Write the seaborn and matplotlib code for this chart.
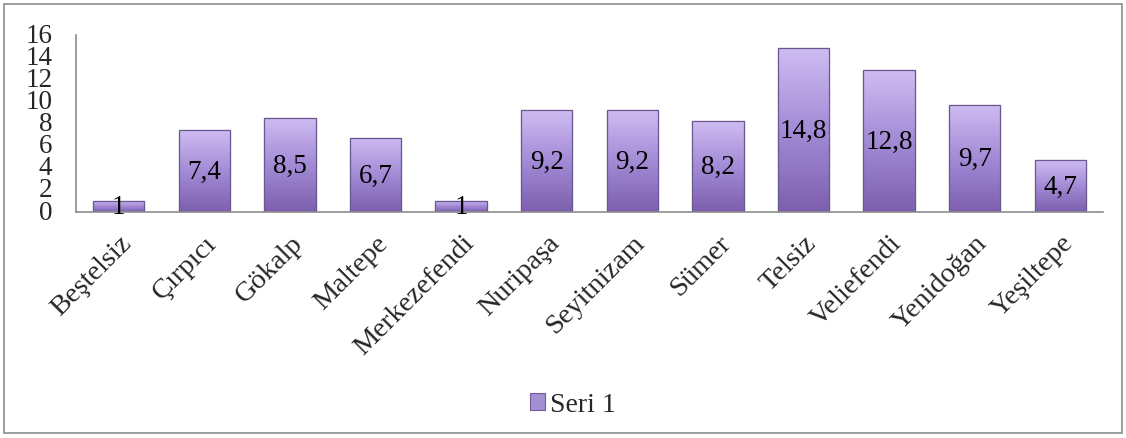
import numpy as np
import pandas as pd
import matplotlib
matplotlib.use("Agg")
import matplotlib.pyplot as plt
import seaborn as sns
from matplotlib.patches import Rectangle
from matplotlib.colors import LinearSegmentedColormap

categories = ["Beştelsiz", "Çırpıcı", "Gökalp", "Maltepe", "Merkezefendi", "Nuripaşa",
              "Seyitnizam", "Sümer", "Telsiz", "Veliefendi", "Yenidoğan", "Yeşiltepe"]
values = [1, 7.4, 8.5, 6.7, 1, 9.2, 9.2, 8.2, 14.8, 12.8, 9.7, 4.7]
series_name = "Seri 1"
yticks = [0, 2, 4, 6, 8, 10, 12, 14, 16]

sns.set_style("white")
plt.rcParams['font.family'] = ['Liberation Serif', 'DejaVu Serif']

df = pd.DataFrame({"Mahalle": categories, "Deger": values})

fig = plt.figure(figsize=(11.26, 4.39), dpi=100)
ax = fig.add_axes([76/1126, 1-213/439, (1103-76)/1126, (213-36)/439])

sns.barplot(data=df, x="Mahalle", y="Deger", ax=ax, color="#a48fd4",
            width=0.6, edgecolor="#6e5c94", linewidth=0.8, label=series_name,
            saturation=1)

handles, labels = ax.get_legend_handles_labels()
if ax.get_legend() is not None:
    ax.get_legend().remove()

cmap = LinearSegmentedColormap.from_list("lav", ["#7c5fae", "#a38bd6", "#cfbcf2"])
grad = np.linspace(0, 1, 256).reshape(-1, 1)
for p in list(ax.patches):
    x, y = p.get_x(), p.get_y()
    w, h = p.get_width(), p.get_height()
    im = ax.imshow(grad, cmap=cmap, origin="lower", aspect="auto",
                   extent=[x, x + w, y, y + h], zorder=p.get_zorder() + 0.1)
    im.set_clip_path(p)
    ax.add_patch(Rectangle((x, y), w, h, fill=False, edgecolor="#6a5890",
                           linewidth=0.9, zorder=p.get_zorder() + 0.2))

for i, v in enumerate(values):
    ax.text(i, v / 2, f"{v:g}".replace(".", ","), ha="center", va="center",
            fontsize=19.5, color="black", zorder=5)

ax.set_xlim(-0.5, len(categories) - 0.5)
ax.set_ylim(0, 16)
ax.set_yticks(yticks)
ax.set_yticklabels([str(t) for t in yticks], fontsize=19.5)
ax.set_xlabel("")
ax.set_ylabel("")
ax.tick_params(axis="y", length=0, pad=17)
ax.tick_params(axis="x", length=0, pad=13)
for t in ax.get_xticklabels():
    t.set_rotation(45)
    t.set_ha("right")
    t.set_rotation_mode("anchor")
    t.set_fontsize(20.5)
for t in ax.get_yticklabels():
    t.set_verticalalignment("center")

for s in ["top", "right"]:
    ax.spines[s].set_visible(False)
for s in ["left", "bottom"]:
    ax.spines[s].set_color("#8c8c8c")
    ax.spines[s].set_linewidth(1.2)

fig.legend(handles[:1], labels[:1], loc="center", bbox_to_anchor=(573/1126, 1-406/439),
           frameon=False, fontsize=20, handlelength=0.55, handleheight=0.55,
           handletextpad=0.2, borderpad=0)

fig.patches.append(Rectangle((4/1126, 5/439), 1118/1126, 429/439, transform=fig.transFigure,
                             fill=False, edgecolor="#8c8c8c", linewidth=1.2))

fig.savefig("out.png", dpi=100)
